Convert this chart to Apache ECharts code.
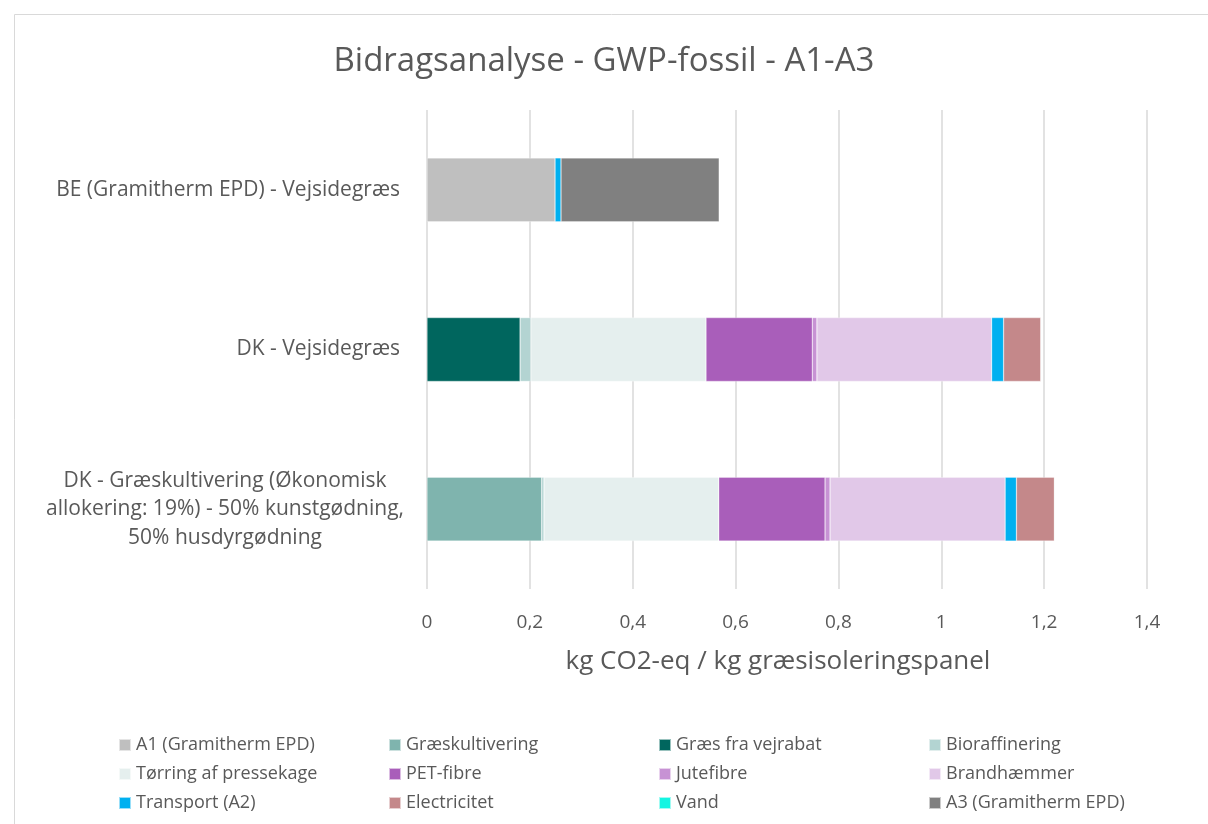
<!DOCTYPE html>
<html><head><meta charset="utf-8">
<script src="https://cdn.jsdelivr.net/npm/echarts@6/dist/echarts.min.js"></script>
<style>html,body{margin:0;padding:0;background:#fff}#c{width:1208px;height:824px}</style>
</head><body><div id="c"></div>
<script>
const categories = [
  'BE (Gramitherm EPD) - Vejsidegræs',
  'DK - Vejsidegræs',
  'DK - Græskultivering (Økonomisk\nallokering: 19%) - 50% kunstgødning,\n50% husdyrgødning'
];
const xTicks = [0, 0.2, 0.4, 0.6, 0.8, 1, 1.2, 1.4];
const seriesNames = ['A1 (Gramitherm EPD)','Græskultivering','Græs fra vejrabat','Bioraffinering','Tørring af pressekage','PET-fibre','Jutefibre','Brandhæmmer','Transport (A2)','Electricitet','Vand','A3 (Gramitherm EPD)'];
const a1 = [0.249, null, null];
const graeskultivering = [null, null, 0.223];
const graesVejrabat = [null, 0.181, null];
const bioraffinering = [null, 0.021, 0.0045];
const toerring = [null, 0.3405, 0.3398];
const pet = [null, 0.2067, 0.2067];
const jute = [null, 0.009, 0.0097];
const brand = [null, 0.3397, 0.3405];
const transport = [0.0116, 0.0233, 0.022];
const electricitet = [null, 0.0723, 0.0737];
const vand = [null, 0.001, 0.001];
const a3 = [0.3075, null, null];
const seriesValues = [a1, graeskultivering, graesVejrabat, bioraffinering, toerring, pet, jute, brand, transport, electricitet, vand, a3];
const colors = ['#BFBFBF','#7FB4AE','#00665E','#B3D4D2','#E5EFEE','#A95EBA','#C792D4','#E1C8E8','#00B0F0','#C4888A','#14F5E2','#808080'];

const FONT = 'Open Sans';
const TXT = '#595959';
const chart = echarts.init(document.getElementById('c'), null, {renderer:'canvas'});

const series = seriesNames.map((n,i)=>({
  name:n, type:'bar', stack:'s', data:seriesValues[i], barWidth:'40%',
  itemStyle:{color:colors[i], borderColor:'rgba(255,255,255,0.6)', borderWidth:0.5},
  emphasis:{disabled:true}
}));

const legendCols = [[0,4,8],[1,5,9],[2,6,10],[3,7,11]];
const legendX = [113,383,653,923];
const legends = legendCols.map((col,k)=>({
  orient:'vertical', left:legendX[k], top:731,
  data:col.map(i=>seriesNames[i]), icon:'rect', itemWidth:12, itemHeight:12,
  itemGap:11, selectedMode:false,
  textStyle:{fontFamily:FONT, fontSize:18, color:TXT, padding:[0,0,0,0]}
}));

chart.setOption({
  animation:false,
  color:colors,
  graphic:[{type:'rect', left:12, top:12, silent:true,
    shape:{x:0.5, y:0.5, width:1194, height:830},
    style:{fill:'none', stroke:'#D9D9D9', lineWidth:1}}],
  title:{text:'Bidragsanalyse - GWP-fossil - A1-A3', left:'center', top:40,
    textStyle:{fontFamily:FONT, fontSize:33, fontWeight:'normal', color:TXT}},
  legend:legends,
  grid:{left:427, right:61, top:110, bottom:235, containLabel:false},
  xAxis:{type:'value', min:0, max:1.4, interval:0.2,
    axisLine:{show:false}, axisTick:{show:false},
    splitLine:{lineStyle:{color:'#D9D9D9', width:1.5}},
    axisLabel:{fontFamily:FONT, fontSize:19, color:TXT, margin:24,
      formatter:v=>{const t=xTicks.find(x=>Math.abs(x-v)<1e-9); return String(t!==undefined?t:v).replace('.',',');}},
    name:'kg CO2-eq / kg græsisoleringspanel', nameLocation:'middle', nameGap:60,
    nameTextStyle:{fontFamily:FONT, fontSize:26, color:TXT, padding:[0,18,0,0]}
  },
  yAxis:{type:'category', inverse:true, data:categories,
    axisLine:{show:false}, axisTick:{show:false},
    axisLabel:{fontFamily:FONT, fontSize:21, color:TXT, margin:27, lineHeight:28,
      formatter:(v)=> v.indexOf('\n')>=0 ? '{c|'+v+'}' : v,
      rich:{c:{fontFamily:FONT, fontSize:21, color:TXT, width:350, align:'center', lineHeight:28.5}}}
  },
  series:series
});
</script></body></html>
